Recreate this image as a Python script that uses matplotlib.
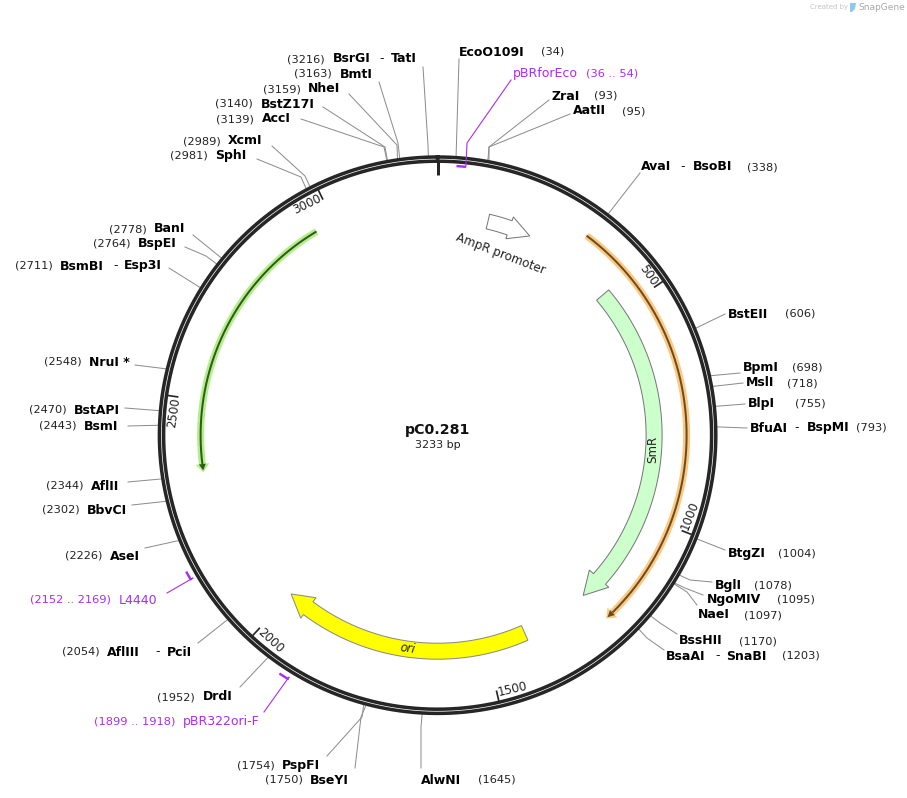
import numpy as np
import matplotlib
matplotlib.use("Agg")
import matplotlib.pyplot as plt
from matplotlib.patches import Polygon

plt.rcParams['font.family'] = ['DejaVu Sans']

# ---------- data ----------
PLASMID_NAME = "pC0.281"
PLASMID_LENGTH = 3233
TICK_BP = [500, 1000, 1500, 2000, 2500, 3000]

SITE_NAMES = ["EcoO109I", "ZraI", "AatII", "AvaI", "BstEII", "BpmI", "MslI", "BlpI",
              "BfuAI", "BtgZI", "BglI", "NgoMIV", "NaeI", "BssHII", "BsaAI",
              "AlwNI", "BseYI", "PspFI", "DrdI", "AflIII", "AseI", "BbvCI", "AflII",
              "BsmI", "BstAPI", "NruI *", "BsmBI", "BspEI", "BanI", "SphI", "XcmI",
              "AccI", "BstZ17I", "NheI", "BmtI", "BsrGI"]
SITE_BP = [34, 93, 95, 338, 606, 698, 718, 755, 793, 1004, 1078, 1095, 1097, 1170, 1203,
           1645, 1750, 1754, 1952, 2054, 2226, 2302, 2344, 2443, 2470, 2548, 2711, 2764,
           2778, 2981, 2989, 3139, 3140, 3159, 3163, 3216]
SECOND_NAMES = {"AvaI": "BsoBI", "BfuAI": "BspMI", "BsaAI": "SnaBI", "AflIII": "PciI",
                "BsmBI": "Esp3I", "BsrGI": "TatI"}

PRIMER_NAMES = ["pBRforEco", "L4440", "pBR322ori-F"]
PRIMER_START = [36, 2152, 1899]
PRIMER_END = [54, 2169, 1918]

FEATURE_AMPR = (119, 223)
FEATURE_SMR = (446, 1237)
FEATURE_ORI = (1403, 2000)
FEATURE_ORANGE = (330, 1230)
FEATURE_GREEN = (2957, 2348)

# ---------- layout (pixels of the figure) ----------
W, H = 907, 798
CX, CY = 437.6, 435.2
SITE_NAME_X = [459, 551, 573, 641, 728, 743, 746, 748, 750, 728, 715, 707, 698, 679, 666,
               421, 310, 282, 203, 107, 110, 87, 91, 84, 74, 89, 60, 138, 154, 215, 228,
               262, 261, 308, 340, 333]
SITE_NUM_X = [541, 594, 622, 747, 785, 792, 787, 795, 856, 778, 754, 777, 744, 739, 782,
              478, 265, 237, 157, 62, 65, 42, 46, 39, 29, 44, 15, 93, 109, 170, 183,
              216, 215, 263, 294, 287]
SITE_Y = [52, 96, 111, 167, 314, 368, 383, 404, 428, 554, 585, 600, 615, 641, 656,
          780, 780, 765, 697, 652, 556, 510, 486, 426, 410, 362, 266, 244, 229, 156, 141,
          119, 104, 89, 74, 59]
# x of dash centre and of second name, for the double labels
SECOND_X = {"AvaI": (683, 693), "BfuAI": (797, 807), "BsaAI": (718, 726), "AflIII": (158, 167),
            "BsmBI": (116, 124), "BsrGI": (382, 391)}
LEADER_END = [(459, 59), (549, 100), (570, 114), (640, 173), (725, 314), (740, 373), (743, 383),
              (745, 404), (747, 428), (725, 550), (712, 582), (703, 595), (697, 605), (677, 634),
              (664, 650), (421, 768), (355, 768), (327, 756), (240, 687), (198, 643), (145, 548),
              (132, 505), (128, 482), (128, 426), (125, 408), (135, 365), (169, 268), (185, 247),
              (193, 235), (257, 159), (272, 146), (301, 119), (323, 107), (349, 94), (379, 82),
              (423, 67)]
LEADER_ELBOW = [None, (489, 147), (489, 147), None, None, None, None, None, None, None,
                (690, 580), (685, 588), (687, 592), (660, 623), (647, 638), (421, 727),
                (361, 717), (362, 717), None, None, None, None, None, None, None, None, None,
                (206, 256), None, (301, 177), (305, 176), (384, 147), (385, 147), (397, 145),
                (398, 143), (428, 145)]
PRIMER_LAYOUT = [dict(name_x=513, num_x=586, y=74, elbow=(467, 143), end=(511, 80), r=269.8),
                 dict(name_x=119, num_x=30, y=600, elbow=(193, 578), end=(167, 593), r=286),
                 dict(name_x=183, num_x=94, y=721, elbow=(289, 677), end=(264, 712), r=286)]

GRAY = "#8c8c8c"
PURPLE = "#a92cf5"


def theta(bp):
    return 2 * np.pi * np.asarray(bp, float) / PLASMID_LENGTH


def pol(bp, r):
    t = theta(bp)
    return CX + r * np.sin(t), CY - r * np.cos(t)


fig = plt.figure(figsize=(W / 100, H / 100), dpi=100)
ax = fig.add_axes([0, 0, 1, 1])
ax.set_xlim(0, W)
ax.set_ylim(H, 0)
ax.axis("off")
PX = 0.72


def arc(b0, b1, r, n=200):
    b = np.linspace(b0, b1, n)
    return pol(b, r)


# backbone
bb = np.linspace(0, PLASMID_LENGTH, 720)
ax.plot(*pol(bb, 278.2), color="#262626", lw=3.5 * PX, zorder=3)
ax.plot(*pol(bb, 274.0), color="#262626", lw=3.5 * PX, zorder=3)

# 0 tick
ax.plot(*zip(pol(0, 273), pol(0, 260.5)), color="#262626", lw=3 * PX, zorder=3, solid_capstyle="butt")
for bp in TICK_BP:
    ax.plot(*zip(pol(bp, 273), pol(bp, 262)), color="#262626", lw=1.7 * PX, zorder=3, solid_capstyle="butt")
    deg = 360 * bp / PLASMID_LENGTH
    rot = -deg + 180 if 90 < deg < 270 else -deg
    shift = 26 if bp < 1000 else 32
    tx, ty = pol(bp - shift, 265)
    ax.text(tx, ty, str(bp), rotation=rot, rotation_mode="anchor", ha="center", va="center",
            fontsize=8.6, color="#222222")

# sites
for name, bp, nx, mx, y, end, elbow in zip(SITE_NAMES, SITE_BP, SITE_NAME_X, SITE_NUM_X, SITE_Y,
                                           LEADER_END, LEADER_ELBOW):
    pts = [pol(bp, 280)]
    if elbow is not None:
        pts.append(elbow)
    pts.append(end)
    ax.plot(*zip(*pts), color=GRAY, lw=1.0 * PX, zorder=2)
    ax.text(nx, y, name, fontsize=9, fontweight="bold", color="black", ha="left", va="center")
    if name in SECOND_NAMES:
        dash_x, second_x = SECOND_X[name]
        ax.text(dash_x, y, "-", fontsize=9, color="#111111", ha="center", va="center")
        ax.text(second_x, y, SECOND_NAMES[name], fontsize=9, fontweight="bold", color="black",
                ha="left", va="center")
    ax.text(mx, y, f"({bp})", fontsize=8.2, color="#222222", ha="left", va="center")

# primers
for name, s, e, lay in zip(PRIMER_NAMES, PRIMER_START, PRIMER_END, PRIMER_LAYOUT):
    ax.plot(*arc(s, e, lay["r"], 20), color=PURPLE, lw=2.4 * PX, zorder=4, solid_capstyle="butt")
    p0 = pol(e if name == "pBRforEco" else s, lay["r"])
    ax.plot(*zip(p0, lay["elbow"], lay["end"]), color=PURPLE, lw=1.1 * PX, zorder=4)
    ax.text(lay["name_x"], lay["y"], name, fontsize=9, color=PURPLE, ha="left", va="center")
    ax.text(lay["num_x"], lay["y"], f"({s} .. {e})", fontsize=8.2, color=PURPLE, ha="left", va="center")


def arrow_poly(b0, b1, bhead, r0, r1, h0, h1, fc, ec, lw=1.0, z=3):
    x0, y0 = arc(b0, bhead, r1)
    x1, y1 = arc(bhead, b0, r0)
    hx0, hy0 = pol(bhead, h1)
    tx, ty = pol(b1, (r0 + r1) / 2)
    hx1, hy1 = pol(bhead, h0)
    xs = np.r_[x0, hx0, tx, hx1, x1]
    ys = np.r_[y0, hy0, ty, hy1, y1]
    ax.add_patch(Polygon(np.c_[xs, ys], closed=True, facecolor=fc, edgecolor=ec, lw=lw * PX, zorder=z))


# AmpR promoter
arrow_poly(FEATURE_AMPR[0], FEATURE_AMPR[1], 172, 212, 227, 208, 231, "white", "#777777")
ax.text(*pol(171, 192), "AmpR promoter", rotation=-21, ha="center", va="center", fontsize=8.6,
        color="#222222", rotation_mode="anchor")
# SmR
arrow_poly(FEATURE_SMR[0], FEATURE_SMR[1], 1182, 208.5, 224.5, 203, 229, "#ccffcc", "#777777")
ax.text(*pol(842, 216), "SmR", rotation=90, ha="center", va="center", fontsize=8.6, color="#222222",
        rotation_mode="anchor")
# ori
arrow_poly(FEATURE_ORI[0], FEATURE_ORI[1], 1947, 208, 224, 203, 228.5, "#ffff00", "#888888")
ax.text(*pol(1689, 215.7), "ori", rotation=-8, ha="center", va="center", fontsize=8.6, style="italic",
        color="#222222", rotation_mode="anchor")


# highlighted line features
def line_feature(b0, b1, r, hl, core):
    sgn = np.sign(b1 - b0)
    bh = b1 - sgn * 14
    ax.plot(*arc(b0, bh, r), color=hl, lw=7 * PX, zorder=3, solid_capstyle="butt")
    ax.plot(*arc(b0, bh, r), color=core, lw=2 * PX, zorder=4, solid_capstyle="butt")
    for rr, cc, extra, z in ((7, hl, 4, 3), (3.5, core, 0, 4)):
        ax.add_patch(Polygon([pol(bh, r + rr), pol(b1 + sgn * extra, r), pol(bh, r - rr)], closed=True,
                             facecolor=cc, edgecolor="none", zorder=z))


line_feature(*FEATURE_ORANGE, 249, "#fdc880", "#6b4c24")
line_feature(*FEATURE_GREEN, 237, "#b4ee88", "#2e5a1e")

# centre
ax.text(CX, 430, PLASMID_NAME, fontsize=10.2, fontweight="bold", ha="center", va="center", color="#111111")
ax.text(CX, 445, f"{PLASMID_LENGTH} bp", fontsize=8, ha="center", va="center", color="#222222")

# watermark
ax.text(810, 7, "Created by", fontsize=5, color="#c4c4c4", ha="left", va="center")
ax.add_patch(Polygon([(850, 3), (856, 3), (855, 9), (852, 12), (850, 12)], closed=True, facecolor="#8ecbea",
                     edgecolor="none"))
ax.text(858, 7, "SnapGene", fontsize=6.5, color="#a8a8a8", ha="left", va="center")

fig.savefig("out.png", dpi=100, facecolor="white")
